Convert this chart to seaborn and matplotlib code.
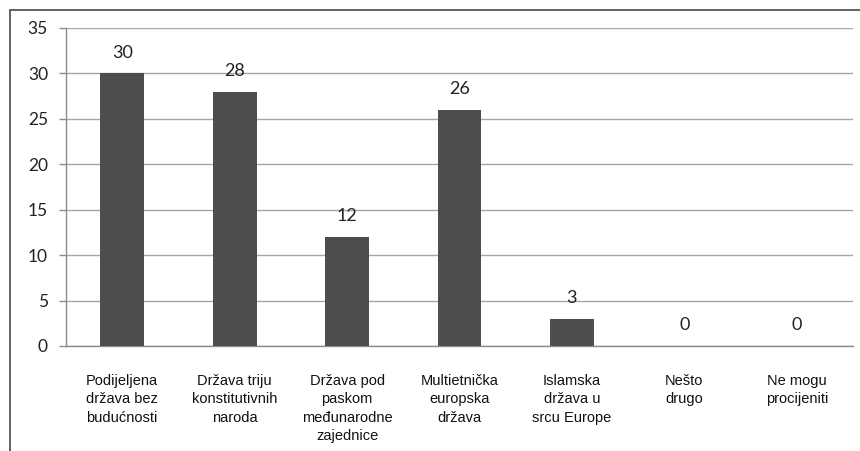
import matplotlib
matplotlib.use("Agg")
import matplotlib.pyplot as plt
import seaborn as sns
from matplotlib.lines import Line2D

# Podaci
categories = [
    "Podijeljena\ndržava bez\nbudućnosti",
    "Država triju\nkonstitutivnih\nnaroda",
    "Država pod\npaskom\nmeđunarodne\nzajednice",
    "Multietnička\neuropska\ndržava",
    "Islamska\ndržava u\nsrcu Europe",
    "Nešto\ndrugo",
    "Ne mogu\nprocijeniti",
]
values = [30, 28, 12, 26, 3, 0, 0]
y_ticks = [0, 5, 10, 15, 20, 25, 30, 35]

sns.set_style("white")
plt.rcParams["font.family"] = ["Lato", "DejaVu Sans"]

fig = plt.figure(figsize=(8.6, 4.51), dpi=100)
ax = fig.add_axes([66 / 860, 1 - 346 / 451, (853 - 66) / 860, (346 - 28) / 451])

x = list(range(len(categories)))
sns.barplot(x=x, y=values, color="#4d4d4f", width=0.39, saturation=1,
            edgecolor="none", ax=ax, zorder=3)

ax.set_xlim(-0.5, len(categories) - 0.5)
ax.set_ylim(0, 35)
ax.set_yticks(y_ticks)
ax.set_yticklabels([str(t) for t in y_ticks], fontsize=12.5, color="#222222")
ax.yaxis.grid(True, color="#a6a6a6", linewidth=1, zorder=0)
ax.xaxis.grid(False)

ax.set_xticks(x)
ax.set_xticklabels(categories, fontsize=10.5, family=["Liberation Sans", "DejaVu Sans"],
                   linespacing=1.4, color="#111111", va="top")
ax.tick_params(axis="x", which="major", length=0, pad=20)
ax.set_xticks([i - 0.5 for i in range(len(categories) + 1)], minor=True)
ax.tick_params(axis="x", which="minor", length=5, width=1, color="#8c8c8c", direction="out")
ax.tick_params(axis="y", length=5, width=1, color="#8c8c8c", direction="out", pad=8, left=True)

for side in ["top", "right"]:
    ax.spines[side].set_visible(False)
for side in ["left", "bottom"]:
    ax.spines[side].set_color("#8c8c8c")
    ax.spines[side].set_linewidth(1)

for i, v in enumerate(values):
    ax.annotate(str(v), (i, v), xytext=(0, 9), textcoords="offset points",
                ha="center", va="bottom", fontsize=13, color="#222222")

ax.set_xlabel("")
ax.set_ylabel("")

# vanjski okvir grafikona
fig.add_artist(Line2D([10 / 860, 10 / 860], [0, 1 - 10 / 451], color="#555555",
                      linewidth=1.3, transform=fig.transFigure))
fig.add_artist(Line2D([10 / 860, 1], [1 - 10 / 451, 1 - 10 / 451], color="#555555",
                      linewidth=1.3, transform=fig.transFigure))

fig.savefig("out.png", dpi=100, facecolor="white")
